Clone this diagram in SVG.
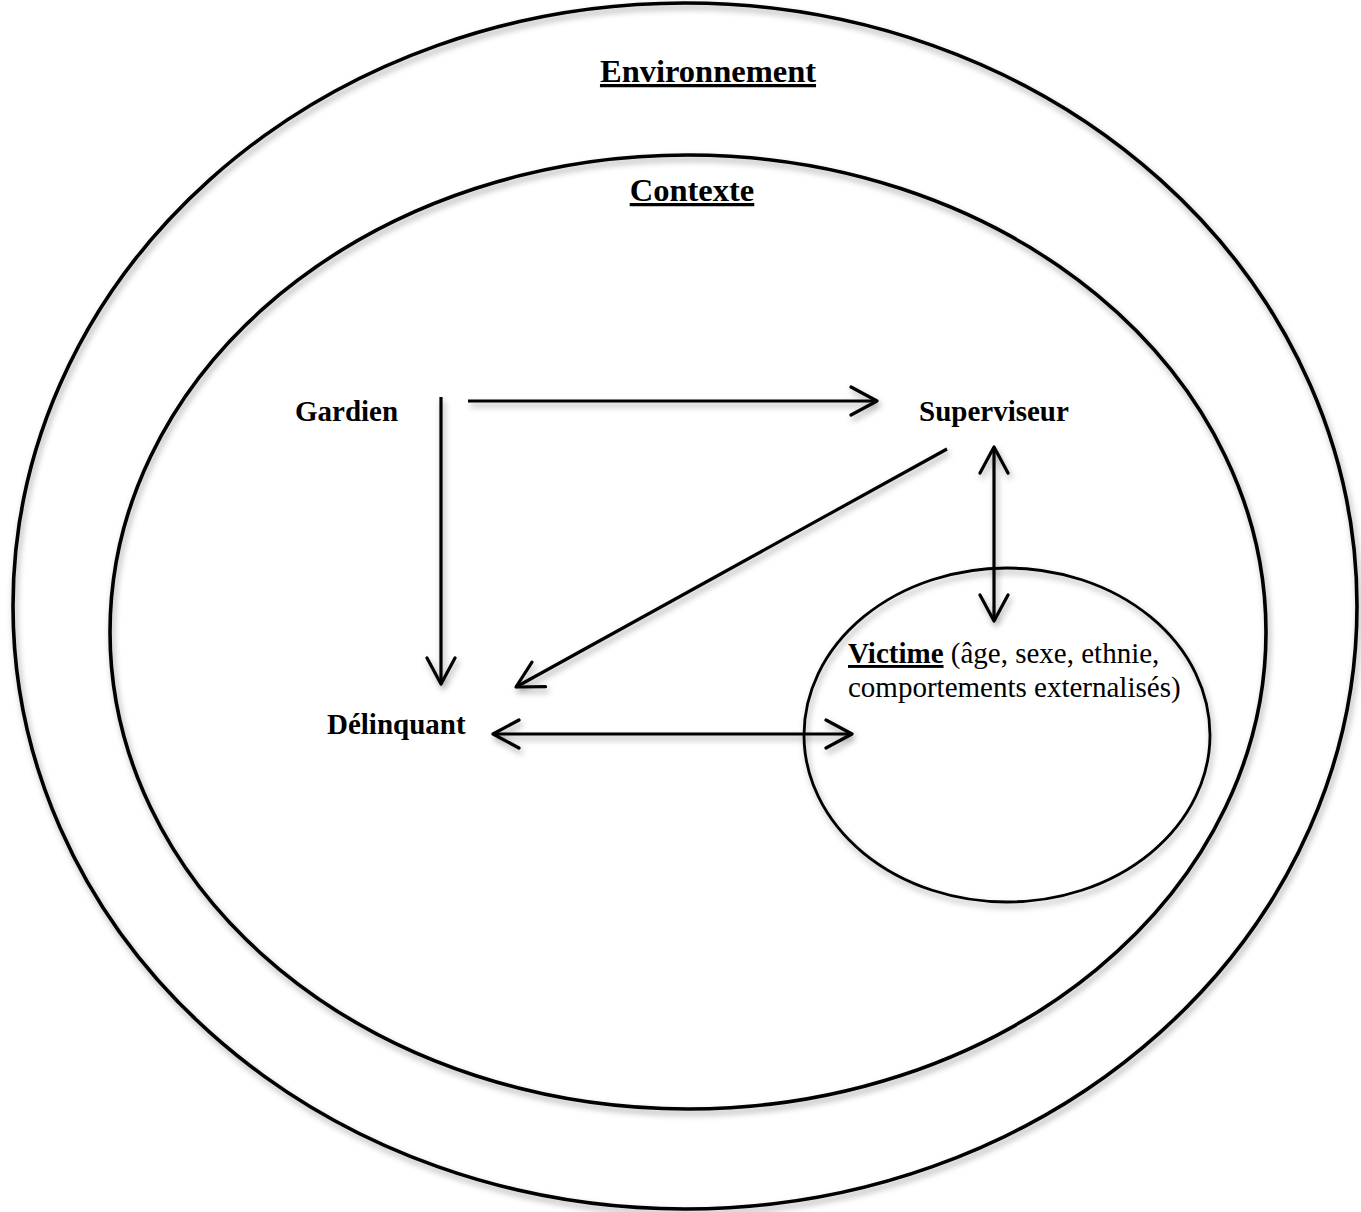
<svg xmlns="http://www.w3.org/2000/svg" width="1361" height="1212" viewBox="0 0 1361 1212">
<style>
.sh{fill:none;stroke:#000;stroke-width:3.6}
.t{font-family:"Liberation Serif","Times New Roman",serif;font-size:29px;fill:#000}
.h{font-size:32.5px}
.b{font-weight:bold}
.u{text-decoration:underline}
.c{fill:none;stroke:#000;stroke-width:3.2}
</style>
<defs>
<filter id="ds" x="-10%" y="-10%" width="120%" height="120%">
<feDropShadow dx="2" dy="4" stdDeviation="3" flood-color="#000" flood-opacity="0.35"/>
</filter>
<marker id="ah" viewBox="-30 -16 34 32" markerWidth="34" markerHeight="32" refX="0" refY="0" orient="auto-start-reverse" markerUnits="userSpaceOnUse">
<path d="M-26,-14 L0,0 L-26,14" fill="none" stroke="#000" stroke-width="3.2" stroke-linecap="round" stroke-linejoin="round"/>
</marker>
</defs>
<rect width="1361" height="1212" fill="#fff"/>
<g id="environnement">
<ellipse class="sh" cx="685" cy="606" rx="672" ry="603" filter="url(#ds)"/>
<text class="t h b u" x="708" y="82" text-anchor="middle">Environnement</text>
</g>
<g id="contexte">
<ellipse class="sh" cx="688" cy="632" rx="578" ry="477" filter="url(#ds)"/>
<text class="t h b u" x="692" y="201" text-anchor="middle">Contexte</text>
</g>
<g id="victime">
<ellipse cx="1007" cy="735" rx="203" ry="167" fill="none" stroke="#000" stroke-width="2.8" filter="url(#ds)"/>
<text class="t" x="848" y="663"><tspan class="b u">Victime</tspan> (âge, sexe, ethnie,</text>
<text class="t" x="848" y="697">comportements externalisés)</text>
</g>
<g id="gardien"><text class="t b" x="295" y="421">Gardien</text></g>
<g id="superviseur"><text class="t b" x="919" y="421">Superviseur</text></g>
<g id="delinquant"><text class="t b" x="327" y="734">Délinquant</text></g>
<g id="connectors" filter="url(#ds)">
<line class="c" x1="468" y1="401" x2="877" y2="401" marker-end="url(#ah)"/>
<line class="c" x1="441" y1="397" x2="441" y2="684" marker-end="url(#ah)"/>
<line class="c" x1="947" y1="449" x2="516" y2="687" marker-end="url(#ah)"/>
<line class="c" x1="994" y1="447" x2="994" y2="621" marker-start="url(#ah)" marker-end="url(#ah)"/>
<line class="c" x1="493" y1="734" x2="852" y2="734" marker-start="url(#ah)" marker-end="url(#ah)"/>
</g>
</svg>
